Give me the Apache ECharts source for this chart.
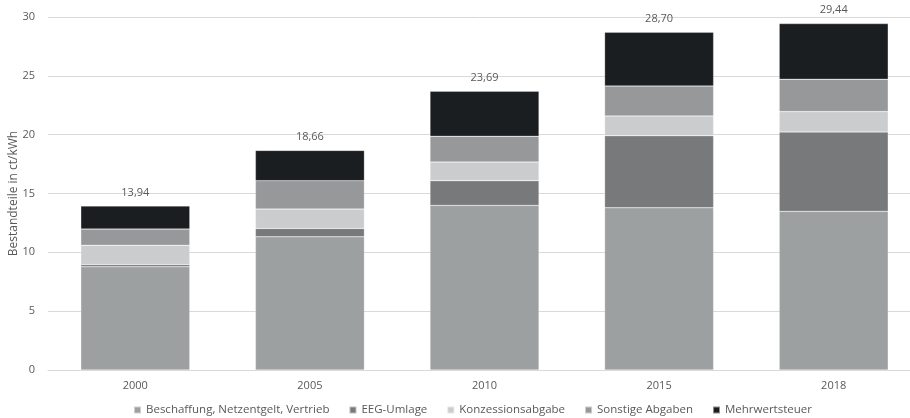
<!DOCTYPE html>
<html>
<head>
<meta charset="utf-8">
<script src="https://cdn.jsdelivr.net/npm/echarts@6/dist/echarts.min.js"></script>
<style>
  html, body { margin: 0; padding: 0; background: #fff; }
  #main { width: 910px; height: 418px; }
</style>
</head>
<body>
<div id="main"></div>
<script>
// Strompreis-Bestandteile, ct/kWh
var years = ['2000', '2005', '2010', '2015', '2018'];
var beschaffung = [8.77, 11.32, 13.99, 13.79, 13.48];
var eegUmlage = [0.19, 0.71, 2.10, 6.12, 6.75];
var konzession = [1.64, 1.65, 1.59, 1.68, 1.73];
var sonstige = [1.38, 2.41, 2.18, 2.55, 2.75];
var mwst = [1.96, 2.57, 3.83, 4.56, 4.73];
var totals = ['13,94', '18,66', '23,69', '28,70', '29,44'];

var chart = echarts.init(document.getElementById('main'));

var font = 'Open Sans';
var barStyle = { borderColor: 'rgba(255,255,255,0.5)', borderWidth: 0.5 };

function seg(name, data, color) {
    return {
        name: name,
        type: 'bar',
        stack: 'total',
        data: data,
        barWidth: 109,
        itemStyle: Object.assign({ color: color }, barStyle)
    };
}

var series = [
    seg('Beschaffung, Netzentgelt, Vertrieb', beschaffung, '#9da0a1'),
    seg('EEG-Umlage', eegUmlage, '#78797a'),
    seg('Konzessionsabgabe', konzession, '#cbcccd'),
    seg('Sonstige Abgaben', sonstige, '#97989a'),
    seg('Mehrwertsteuer', mwst, '#1b1e20')
];
series[4].label = {
    show: true,
    position: 'top',
    distance: 8,
    color: '#595959',
    fontFamily: font,
    fontSize: 11,
    formatter: function (p) { return totals[p.dataIndex]; }
};

var option = {
    animation: false,
    grid: { left: 48, right: -11, top: 17, bottom: 48, outerBoundsMode: 'none', containLabel: false },
    legend: {
        top: 399,
        left: 128,
        icon: 'rect',
        itemWidth: 7,
        itemHeight: 7,
        itemGap: 19,
        textStyle: { color: '#595959', fontFamily: font, fontSize: 11.5 },
        data: series.map(function (s) { return s.name; })
    },
    xAxis: {
        type: 'category',
        data: years,
        axisLine: { show: true, lineStyle: { color: '#d9d9d9' } },
        axisTick: { show: false },
        axisLabel: { color: '#595959', fontFamily: font, fontSize: 11, margin: 10 }
    },
    yAxis: {
        type: 'value',
        min: 0,
        max: 30,
        interval: 5,
        name: 'Bestandteile in ct/kWh',
        nameLocation: 'middle',
        nameGap: 28,
        nameMoveOverlap: false,
        nameTextStyle: { color: '#595959', fontFamily: font, fontSize: 12 },
        axisLine: { show: false },
        axisTick: { show: false },
        splitLine: { lineStyle: { color: '#d9d9d9' } },
        axisLabel: { color: '#595959', fontFamily: font, fontSize: 11, margin: 13 }
    },
    series: series
};

chart.setOption(option);
</script>
</body>
</html>
